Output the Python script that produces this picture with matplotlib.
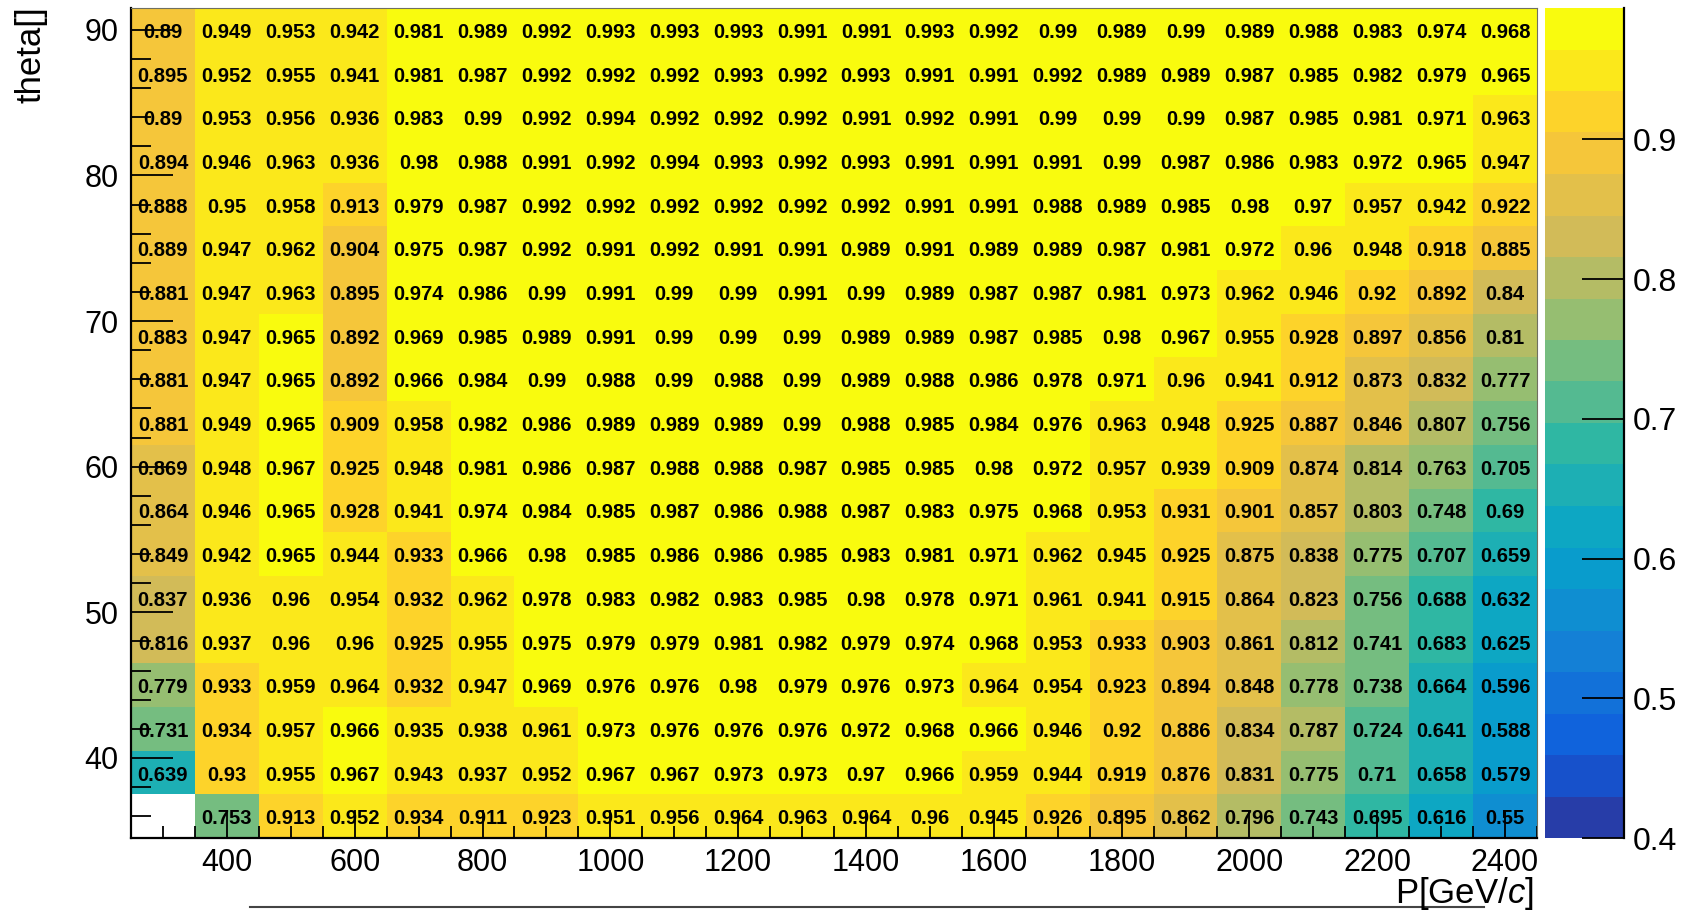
import numpy as np
import matplotlib
matplotlib.use("Agg")
import matplotlib.pyplot as plt
from matplotlib.colors import LinearSegmentedColormap, ListedColormap, BoundaryNorm
from matplotlib.ticker import MultipleLocator, FixedLocator
from matplotlib.lines import Line2D

plt.rcParams['font.family'] = 'Liberation Sans'
plt.rcParams['mathtext.fontset'] = 'custom'
plt.rcParams['mathtext.rm'] = 'Liberation Sans'
plt.rcParams['mathtext.it'] = 'Liberation Sans:italic'

# bin centres
p_bins = [300, 400, 500, 600, 700, 800, 900, 1000, 1100, 1200, 1300,
          1400, 1500, 1600, 1700, 1800, 1900, 2000, 2100, 2200, 2300, 2400]
theta_bins = [90, 87, 84, 81, 78, 75, 72, 69, 66, 63, 60,
              57, 54, 51, 48, 45, 42, 39, 36]

# efficiency per (theta, P) bin, top row = theta 90
eff = [
    [0.89, 0.949, 0.953, 0.942, 0.981, 0.989, 0.992, 0.993, 0.993, 0.993, 0.991, 0.991, 0.993, 0.992, 0.99, 0.989, 0.99, 0.989, 0.988, 0.983, 0.974, 0.968],
    [0.895, 0.952, 0.955, 0.941, 0.981, 0.987, 0.992, 0.992, 0.992, 0.993, 0.992, 0.993, 0.991, 0.991, 0.992, 0.989, 0.989, 0.987, 0.985, 0.982, 0.979, 0.965],
    [0.89, 0.953, 0.956, 0.936, 0.983, 0.99, 0.992, 0.994, 0.992, 0.992, 0.992, 0.991, 0.992, 0.991, 0.99, 0.99, 0.99, 0.987, 0.985, 0.981, 0.971, 0.963],
    [0.894, 0.946, 0.963, 0.936, 0.98, 0.988, 0.991, 0.992, 0.994, 0.993, 0.992, 0.993, 0.991, 0.991, 0.991, 0.99, 0.987, 0.986, 0.983, 0.972, 0.965, 0.947],
    [0.888, 0.95, 0.958, 0.913, 0.979, 0.987, 0.992, 0.992, 0.992, 0.992, 0.992, 0.992, 0.991, 0.991, 0.988, 0.989, 0.985, 0.98, 0.97, 0.957, 0.942, 0.922],
    [0.889, 0.947, 0.962, 0.904, 0.975, 0.987, 0.992, 0.991, 0.992, 0.991, 0.991, 0.989, 0.991, 0.989, 0.989, 0.987, 0.981, 0.972, 0.96, 0.948, 0.918, 0.885],
    [0.881, 0.947, 0.963, 0.895, 0.974, 0.986, 0.99, 0.991, 0.99, 0.99, 0.991, 0.99, 0.989, 0.987, 0.987, 0.981, 0.973, 0.962, 0.946, 0.92, 0.892, 0.84],
    [0.883, 0.947, 0.965, 0.892, 0.969, 0.985, 0.989, 0.991, 0.99, 0.99, 0.99, 0.989, 0.989, 0.987, 0.985, 0.98, 0.967, 0.955, 0.928, 0.897, 0.856, 0.81],
    [0.881, 0.947, 0.965, 0.892, 0.966, 0.984, 0.99, 0.988, 0.99, 0.988, 0.99, 0.989, 0.988, 0.986, 0.978, 0.971, 0.96, 0.941, 0.912, 0.873, 0.832, 0.777],
    [0.881, 0.949, 0.965, 0.909, 0.958, 0.982, 0.986, 0.989, 0.989, 0.989, 0.99, 0.988, 0.985, 0.984, 0.976, 0.963, 0.948, 0.925, 0.887, 0.846, 0.807, 0.756],
    [0.869, 0.948, 0.967, 0.925, 0.948, 0.981, 0.986, 0.987, 0.988, 0.988, 0.987, 0.985, 0.985, 0.98, 0.972, 0.957, 0.939, 0.909, 0.874, 0.814, 0.763, 0.705],
    [0.864, 0.946, 0.965, 0.928, 0.941, 0.974, 0.984, 0.985, 0.987, 0.986, 0.988, 0.987, 0.983, 0.975, 0.968, 0.953, 0.931, 0.901, 0.857, 0.803, 0.748, 0.69],
    [0.849, 0.942, 0.965, 0.944, 0.933, 0.966, 0.98, 0.985, 0.986, 0.986, 0.985, 0.983, 0.981, 0.971, 0.962, 0.945, 0.925, 0.875, 0.838, 0.775, 0.707, 0.659],
    [0.837, 0.936, 0.96, 0.954, 0.932, 0.962, 0.978, 0.983, 0.982, 0.983, 0.985, 0.98, 0.978, 0.971, 0.961, 0.941, 0.915, 0.864, 0.823, 0.756, 0.688, 0.632],
    [0.816, 0.937, 0.96, 0.96, 0.925, 0.955, 0.975, 0.979, 0.979, 0.981, 0.982, 0.979, 0.974, 0.968, 0.953, 0.933, 0.903, 0.861, 0.812, 0.741, 0.683, 0.625],
    [0.779, 0.933, 0.959, 0.964, 0.932, 0.947, 0.969, 0.976, 0.976, 0.98, 0.979, 0.976, 0.973, 0.964, 0.954, 0.923, 0.894, 0.848, 0.778, 0.738, 0.664, 0.596],
    [0.731, 0.934, 0.957, 0.966, 0.935, 0.938, 0.961, 0.973, 0.976, 0.976, 0.976, 0.972, 0.968, 0.966, 0.946, 0.92, 0.886, 0.834, 0.787, 0.724, 0.641, 0.588],
    [0.639, 0.93, 0.955, 0.967, 0.943, 0.937, 0.952, 0.967, 0.967, 0.973, 0.973, 0.97, 0.966, 0.959, 0.944, 0.919, 0.876, 0.831, 0.775, 0.71, 0.658, 0.579],
    [np.nan, 0.753, 0.913, 0.952, 0.934, 0.911, 0.923, 0.951, 0.956, 0.964, 0.963, 0.964, 0.96, 0.945, 0.926, 0.895, 0.862, 0.796, 0.743, 0.695, 0.616, 0.55],
]

zmin, zmax = 0.4, 0.994
n_cont = 20

# ROOT "bird" palette, sampled the way contour bands pick their colour
stops = [0.0, 0.125, 0.25, 0.375, 0.5, 0.625, 0.75, 0.875, 1.0]
red = [0.2082, 0.0592, 0.0780, 0.0232, 0.1802, 0.5301, 0.8186, 0.9956, 0.9764]
green = [0.1664, 0.3599, 0.5041, 0.6419, 0.7178, 0.7492, 0.7328, 0.7862, 0.9832]
blue = [0.5293, 0.8684, 0.8385, 0.7914, 0.6425, 0.4662, 0.3499, 0.1968, 0.0539]
bird = LinearSegmentedColormap.from_list("bird", list(zip(stops, zip(red, green, blue))))
band_cols = [bird(int((i + 0.99) * 255 / n_cont) / 254) for i in range(n_cont)]
cmap = ListedColormap(band_cols)
cmap.set_bad("white")
levels = np.linspace(zmin, zmax, n_cont + 1)
norm = BoundaryNorm(levels, n_cont)

p = np.array(p_bins, dtype=float)
th = np.array(theta_bins[::-1], dtype=float)
z = np.array(eff[::-1], dtype=float)
p_edges = np.append(p - 50, p[-1] + 50)
th_edges = np.append(th - 1.5, th[-1] + 1.5)

W, H = 1686, 910
fig = plt.figure(figsize=(W / 100, H / 100), dpi=100)
ax = fig.add_axes([131 / W, 1 - 838 / H, 1406 / W, 830 / H])
cax = fig.add_axes([1545 / W, 1 - 838 / H, 79 / W, 830 / H])

mesh = ax.pcolormesh(p_edges, th_edges, np.ma.masked_invalid(z), cmap=cmap, norm=norm, zorder=1)

# bin contents written in each cell (text sits a touch below centre)
for i, t in enumerate(th):
    for j, pp in enumerate(p):
        v = z[i, j]
        if np.isnan(v):
            continue
        ax.text(pp, t - 0.18, f"{v:g}", ha="center", va="center", fontsize=14.5,
                fontweight="bold", color="black", zorder=2)

ax.set_xlim(p_edges[0], p_edges[-1])
ax.set_ylim(th_edges[0], th_edges[-1])

ax.xaxis.set_major_locator(FixedLocator([400, 600, 800, 1000, 1200, 1400, 1600, 1800, 2000, 2200, 2400]))
ax.xaxis.set_minor_locator(MultipleLocator(50))
ax.yaxis.set_major_locator(FixedLocator([40, 50, 60, 70, 80, 90]))
ax.yaxis.set_minor_locator(MultipleLocator(2))
ax.tick_params(axis="x", which="major", direction="in", length=20, width=1.3, labelsize=22, pad=7, top=False)
ax.tick_params(axis="x", which="minor", direction="in", length=9, width=1.3, top=False)
ax.tick_params(axis="y", which="major", direction="in", length=30, width=1.3, labelsize=22, pad=9, right=False)
ax.tick_params(axis="y", which="minor", direction="in", length=14.5, width=1.3, right=False)

for side in ["left", "bottom"]:
    ax.spines[side].set_color("black")
    ax.spines[side].set_linewidth(1.6)
for side in ["top", "right"]:
    ax.spines[side].set_color("#707060")
    ax.spines[side].set_linewidth(0.8)

# colour scale
cbar = fig.colorbar(mesh, cax=cax, ticks=[0.4, 0.5, 0.6, 0.7, 0.8, 0.9], format="%.1f")
cbar.outline.set_visible(False)
cax.yaxis.set_ticks_position("right")
cax.tick_params(axis="y", which="major", direction="in", length=30, width=1.3, labelsize=23, pad=6)
cax.minorticks_off()
cax.axvline(1, color="black", lw=1.6, clip_on=False)

# axis titles
fig.text(31 / W, 1 - 6 / H, "theta[]", rotation=90, ha="center", va="top", fontsize=25)
fig.text(1534 / W, 1 - 893 / H, r"P[GeV/$\mathit{c}$]", ha="right", va="center", fontsize=25)

fig.add_artist(Line2D([250 / W, 1484 / W], [1 - 907 / H, 1 - 907 / H], color="#444444", lw=1.5))

fig.savefig("out.png", dpi=100)
